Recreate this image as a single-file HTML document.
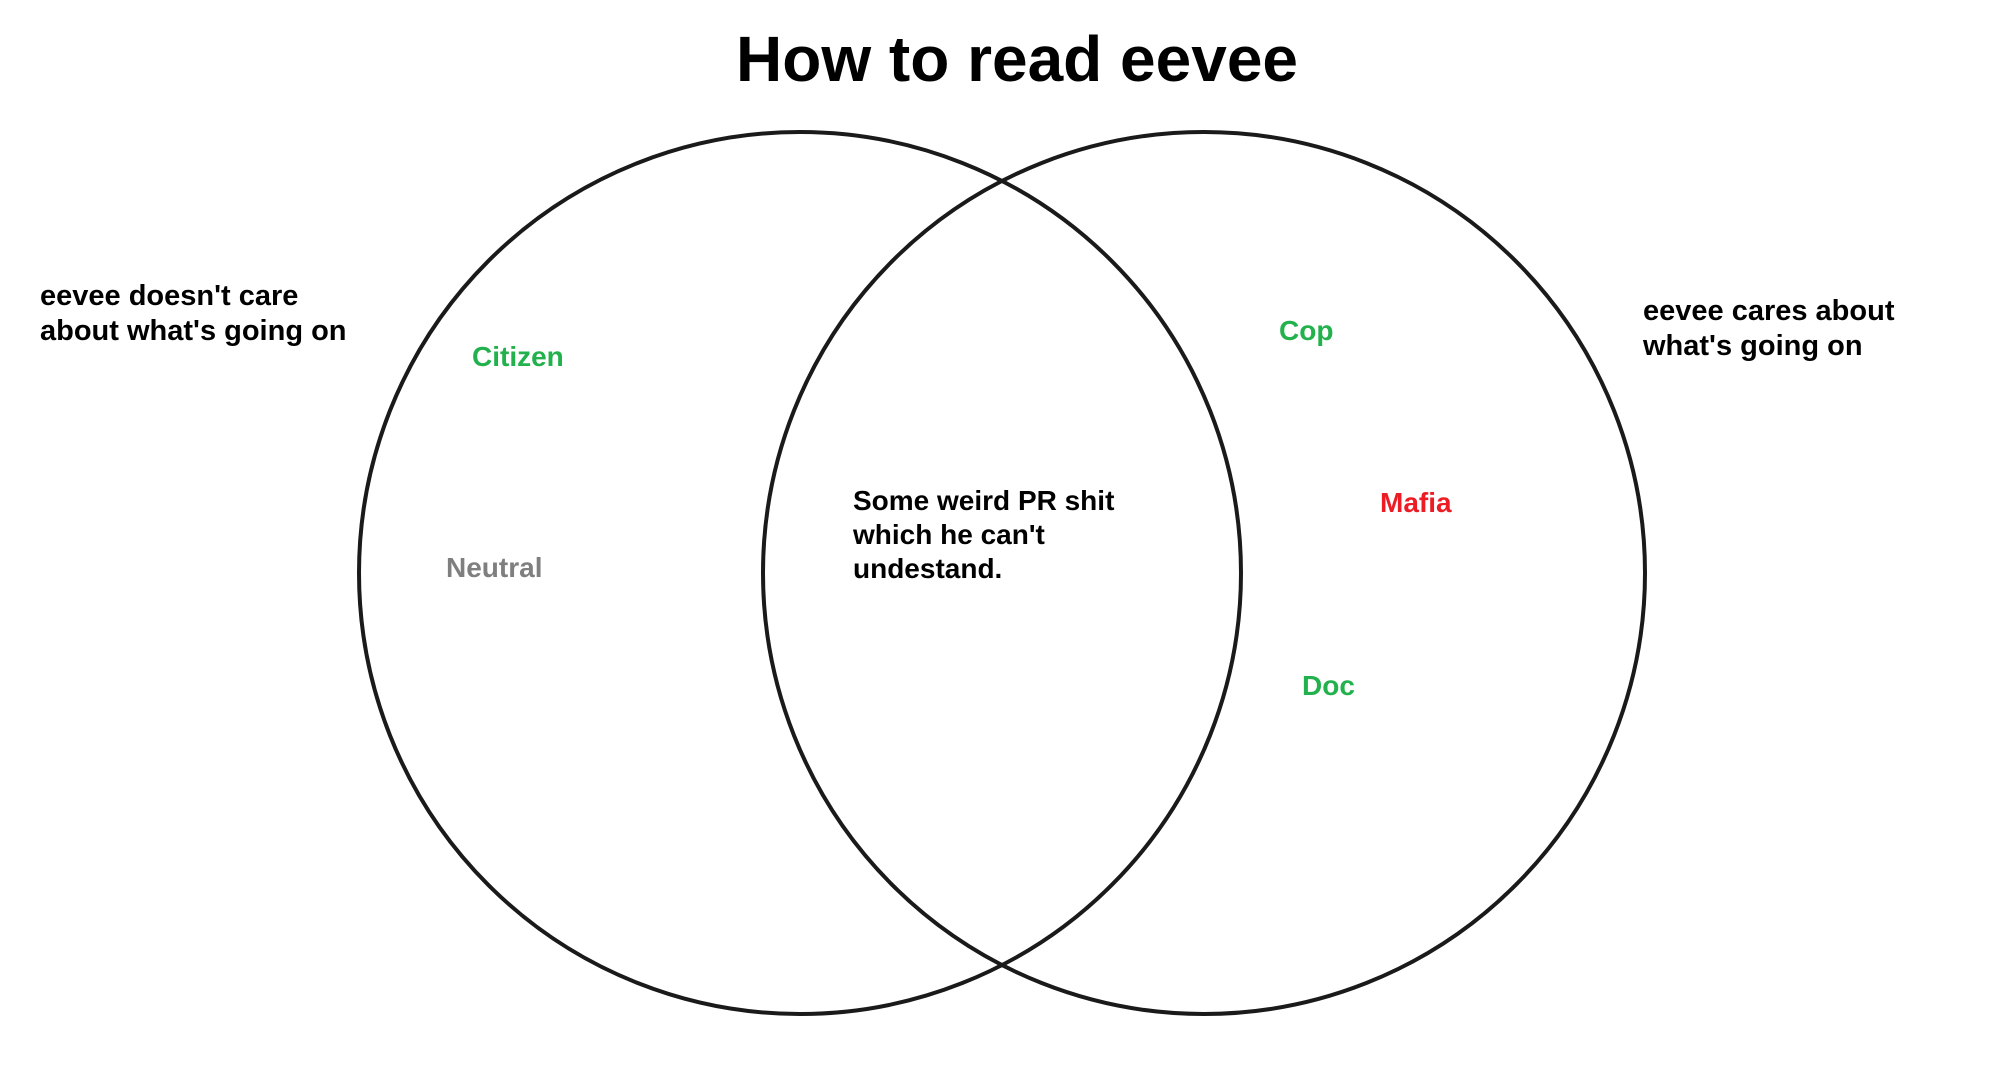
<!DOCTYPE html>
<html><head><meta charset="utf-8"><style>
html,body{margin:0;padding:0;background:#fff;}
svg{display:block;}
text{font-family:"Liberation Sans",Arial,sans-serif;font-weight:bold;}
</style></head><body>
<svg width="2011" height="1075" viewBox="0 0 2011 1075" xmlns="http://www.w3.org/2000/svg">
<rect width="2011" height="1075" fill="#fff"/>
<text x="1017" y="81" font-size="64" text-anchor="middle" fill="#000">How to read eevee</text>
<circle cx="800" cy="573" r="441" fill="none" stroke="#1a1a1a" stroke-width="4"/>
<circle cx="1204" cy="573" r="441" fill="none" stroke="#1a1a1a" stroke-width="4"/>
<g font-size="29" fill="#000">
<text x="40" y="305">eevee doesn't care</text>
<text x="40" y="340">about what's going on</text>
<text x="1643" y="320">eevee cares about</text>
<text x="1643" y="355">what's going on</text>
</g>
<g font-size="28" fill="#000">
<text x="853" y="510">Some weird PR shit</text>
<text x="853" y="544">which he can't</text>
<text x="853" y="578">undestand.</text>
</g>
<g font-size="28">
<text x="472" y="366" fill="#22b14c">Citizen</text>
<text x="446" y="577" fill="#7f7f7f">Neutral</text>
<text x="1279" y="340" fill="#22b14c">Cop</text>
<text x="1380" y="512" fill="#ed1c24">Mafia</text>
<text x="1302" y="695" fill="#22b14c">Doc</text>
</g>
</svg>
</body></html>
